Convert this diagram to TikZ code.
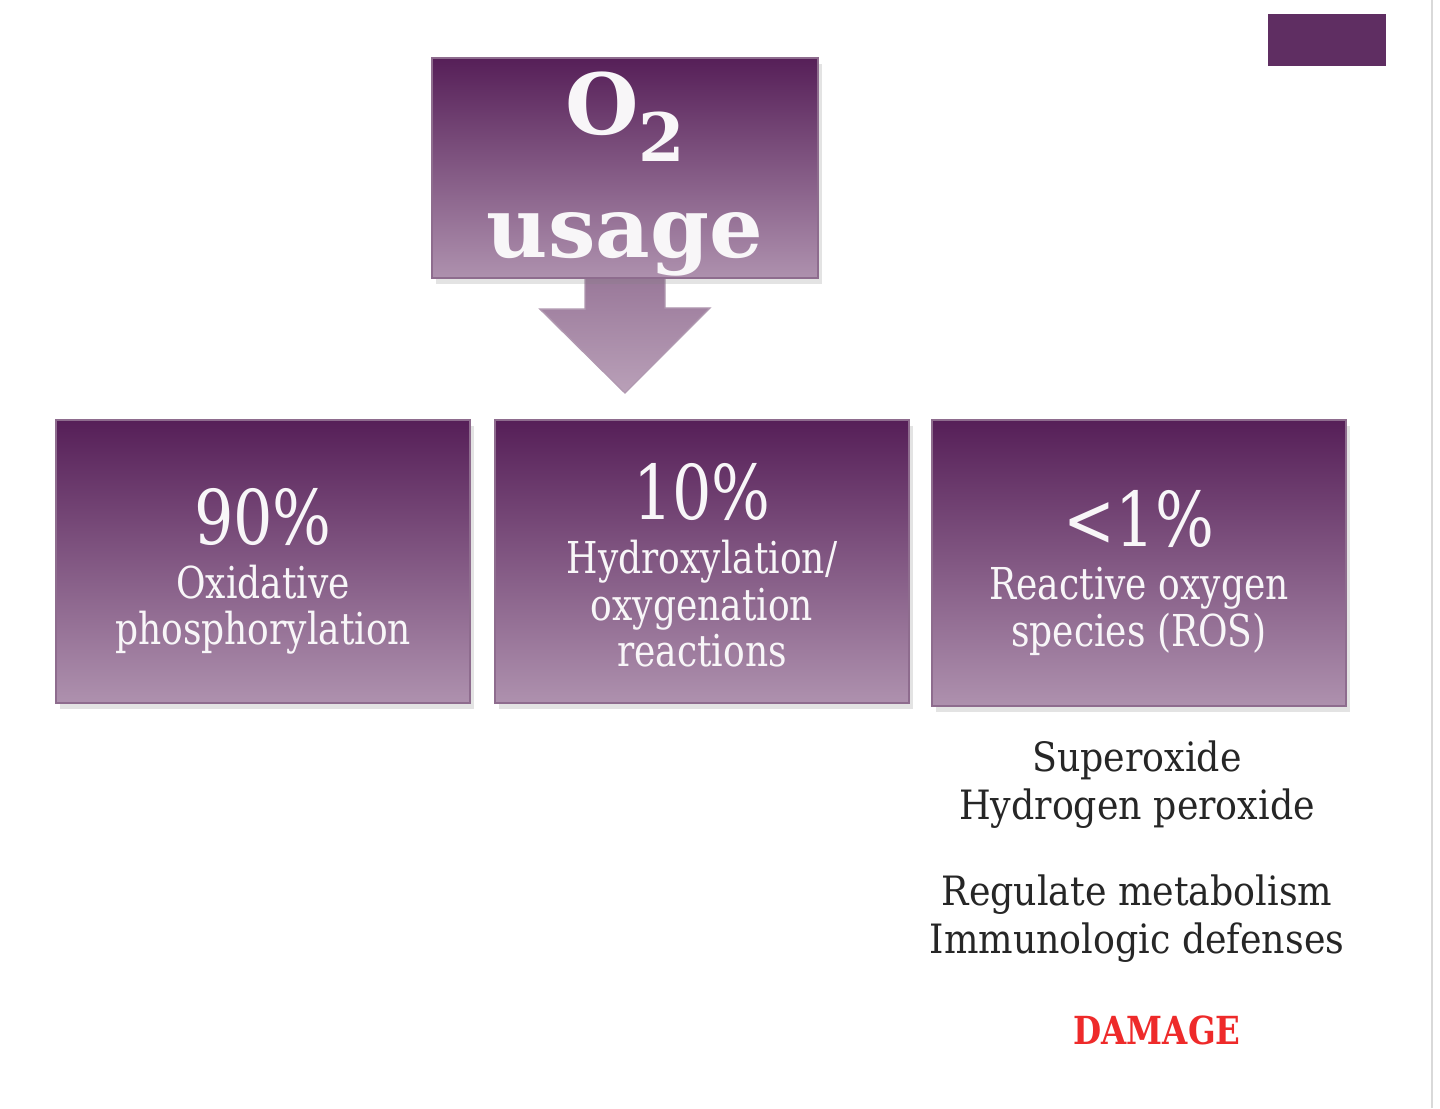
\documentclass[tikz,border=0pt]{standalone}
\usepackage{fontspec}
\setmainfont{DejaVu Serif}
\newfontfamily\boxfont{DejaVu Serif}[FakeStretch=0.82]
\newfontfamily\notefont{DejaVu Serif}[FakeStretch=0.9]
\newfontfamily\damfont{DejaVu Serif}[FakeStretch=0.84]
\usepackage{tikz}
\usetikzlibrary{positioning}
\usetikzlibrary{backgrounds}
\usetikzlibrary{shadows}
\usepackage{xcolor}
\definecolor{plumtop}{HTML}{561F58}
\definecolor{plumbot}{HTML}{AE91AE}
\definecolor{plumedge}{HTML}{8E6C8E}
\definecolor{plumtag}{HTML}{5F2E62}
\definecolor{arrtop}{HTML}{977597}
\definecolor{arrbot}{HTML}{B9A0B8}
\definecolor{damred}{HTML}{EE2A2A}

% big percentage on the first line, with some extra room above it
\newcommand{\pctline}[2]{{\fontsize{21.5}{23}\selectfont\raisebox{0pt}[\dimexpr\height+#2pt]{#1}}}

\begin{document}
\begin{tikzpicture}[
  plumbox/.style={rectangle, draw=plumedge, line width=0.6pt, top color=plumtop, bottom color=plumbot,
    text=white!96!plumtop, align=center, inner sep=0pt, drop shadow={shadow xshift=0.4mm, shadow yshift=-0.6mm, opacity=0.22}},
  pctbox/.style={plumbox, minimum width=4.14cm, minimum height=2.83cm, font=\boxfont\fontsize{12.5}{13.3}\selectfont},
  roslabel/.style={align=center, text=black!85, font=\notefont\fontsize{11.5}{13.6}\selectfont}
]
\useasboundingbox (0,0) rectangle (14.4,11.08);

% tag in the corner and page edge
\fill[plumtag] (12.68,10.42) rectangle (13.86,10.94);
\draw[gray!30, line width=0.8pt] (14.32,0) -- (14.32,11.08);

% top box
\node[plumbox, minimum width=3.86cm, minimum height=2.20cm, font=\bfseries\fontsize{24}{35}\selectfont] (usage) at (6.25,9.40)
  {\raisebox{0pt}[0.9\height][0pt]{O\raisebox{-0.32em}{\fontsize{19}{19}\selectfont 2}}\\ \raisebox{0pt}[\height][-3pt]{usage}};

\coordinate (tip) at (6.25,7.15);

\begin{scope}[on background layer] {
\shade[top color=arrtop, bottom color=arrbot, draw=plumedge!70, line width=0.4pt]
  ([xshift=-0.40cm,yshift=0.10cm]usage.south)--++(0,-0.40)--++(-0.45,0)--(tip)--++(0.85,0.85)--++(-0.45,0)--++(0,0.40)--cycle;
}\end{scope}

% three branches
\node[pctbox] (oxphos) at (2.63,5.465)
  {\pctline{90\%}{5.6}\\[2pt] Oxidative\\ phosphorylation};
\node[pctbox] (hydrox) at (7.02,5.465)
  {\pctline{10\%}{2.3}\\[2pt] Hydroxylation/\\ oxygenation\\ reactions};
\node[pctbox, minimum height=2.86cm] (ros) at (11.39,5.45)
  {\pctline{<1\%}{5.6}\\[2pt] Reactive oxygen\\ species (ROS)};

% notes under ROS
\node[roslabel] (species) at (11.37,3.23) {Superoxide\\ Hydrogen peroxide};
\node[roslabel] (roles) at (11.37,1.895) {Regulate metabolism\\ Immunologic defenses};
\node[roslabel, text=damred, font=\damfont\bfseries\fontsize{11}{13}\selectfont] (damage) at (11.57,0.78) {DAMAGE};

\end{tikzpicture}
\end{document}
